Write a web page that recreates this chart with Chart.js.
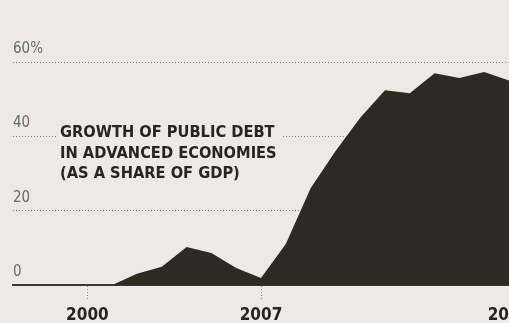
<!DOCTYPE html>
<html>
<head>
<meta charset="utf-8">
<script src="https://cdn.jsdelivr.net/npm/chart.js@4.4.1/dist/chart.umd.min.js"></script>
<style>
  html, body { margin: 0; padding: 0; background: #ebeae5; }
  #wrap { width: 509px; height: 323px; position: relative; }
</style>
</head>
<body>
<div id="wrap"><canvas id="debtChart"></canvas></div>
<script>
// public debt growth, advanced economies, % of GDP
var years = [1997, 1998, 1999, 2000, 2001, 2002, 2003, 2004, 2005, 2006, 2007,
             2008, 2009, 2010, 2011, 2012, 2013, 2014, 2015, 2016, 2017];
var debt = [0, 0, 0, 0, 0, 3, 4.9, 10.2, 8.6, 4.6, 1.9,
            11, 26, 36, 45, 52.4, 51.6, 57, 55.7, 57.3, 55];
var yearTicks = [2000, 2007, 2017];
var noteLines = ["GROWTH OF PUBLIC DEBT", "IN ADVANCED ECONOMIES", "(AS A SHARE OF GDP)"];

var bg = "#ebeae5";

var points = [];
for (var i = 0; i < years.length; i++) {
    points.push({ x: years[i], y: debt[i] });
}

// caption block sits on the chart, hiding the grid line behind it
var notePlugin = {
    id: "note",
    beforeDatasetsDraw: function(chart) {
        var c = chart.ctx;
        c.save();
        c.font = "bold 16.3px 'DejaVu Sans Condensed'";
        var w = 0;
        noteLines.forEach(function(t) { w = Math.max(w, c.measureText(t).width); });
        c.fillStyle = bg;
        c.fillRect(56, 116, w + 10, 70);
        c.fillStyle = "#26251f";
        c.textBaseline = "alphabetic";
        noteLines.forEach(function(t, k) {
            c.fillText(t, 60, 137 + k * 20.5);
        });
        c.restore();
    }
};

var debtChart = new Chart(document.getElementById("debtChart"), {
    type: "line",
    data: {
        datasets: [{
            data: points,
            fill: "origin",
            backgroundColor: "#2c2b22",
            borderWidth: 0,
            pointRadius: 0,
            tension: 0
        }]
    },
    options: {
        responsive: true,
        maintainAspectRatio: false,
        animation: false,
        events: [],
        layout: { padding: { left: 13, right: 0, top: 62, bottom: -7 } },
        plugins: {
            legend: { display: false },
            tooltip: { enabled: false }
        },
        scales: {
            x: {
                type: "linear",
                min: 1997,
                max: 2017,
                afterBuildTicks: function(scale) {
                    scale.ticks = yearTicks.map(function(v) { return { value: v }; });
                },
                afterFit: function(scale) {
                    scale.paddingLeft = 0;
                    scale.paddingRight = 0;
                },
                border: { display: true, color: "#3a3a35", width: 2 },
                grid: {
                    drawOnChartArea: false,
                    drawTicks: true,
                    tickLength: 16,
                    tickColor: "#8a8a85",
                    tickWidth: 1,
                    tickBorderDash: [1, 2]
                },
                ticks: {
                    maxRotation: 0,
                    padding: 6,
                    color: "#26251f",
                    font: { family: "DejaVu Sans Condensed", size: 17, weight: "bold", lineHeight: 1 },
                    callback: function(v) { return String(v); }
                }
            },
            y: {
                min: 0,
                max: 60,
                border: { display: false, dash: [1, 2] },
                grid: {
                    drawTicks: false,
                    color: function(ctx) { return ctx.tick.value === 0 ? "rgba(0,0,0,0)" : "#85857f"; },
                    lineWidth: 1
                },
                ticks: {
                    stepSize: 20,
                    mirror: true,
                    padding: 0,
                    labelOffset: -13,
                    color: "#6a6a66",
                    font: { family: "DejaVu Sans Condensed", size: 15 },
                    callback: function(v) { return v === 60 ? "60%" : String(v); }
                }
            }
        }
    },
    plugins: [notePlugin]
});
</script>
</body>
</html>
